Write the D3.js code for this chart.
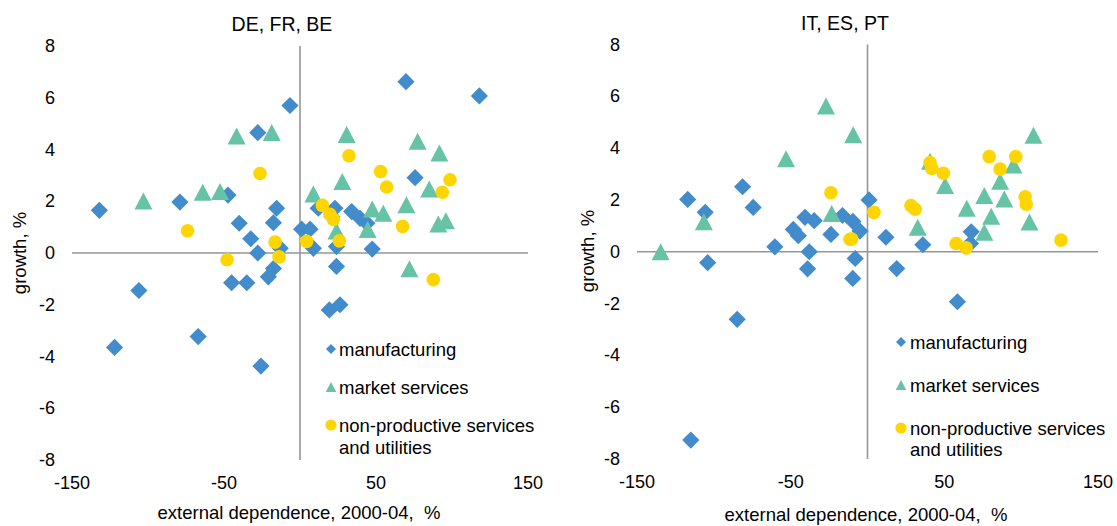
<!DOCTYPE html>
<html>
<head>
<meta charset="utf-8">
<script src="https://cdn.jsdelivr.net/npm/d3@7/dist/d3.min.js"></script>
<style>
  html, body { margin: 0; padding: 0; background: #fff; }
  svg { display: block; font-family: "Liberation Sans", Arial, sans-serif; }
</style>
</head>
<body>
<svg id="chart" width="1117" height="526"></svg>
<script>
// Sector growth vs. external dependence, 2000-04 (x: %, y: growth %)
const panelTitles = ["DE, FR, BE", "IT, ES, PT"];
const seriesNames = ["manufacturing", "market services", "non-productive services\nand utilities"];
const xTicks = [-150, -50, 50, 150];
const yTicks = [-8, -6, -4, -2, 0, 2, 4, 6, 8];
const xTitle = "external dependence, 2000-04,  %";
const yTitle = "growth, %";

// DE, FR, BE
const northManufacturing = [
  [-132, 1.65], [-122, -3.65], [-106, -1.45], [-79, 1.97], [-67, -3.23], [-47.4, 2.24],
  [-45, -1.15], [-40, 1.15], [-35, -1.15], [-32.4, 0.55], [-27.8, 4.65], [-27.8, 0.0],
  [-25.7, -4.37], [-20.8, -0.92], [-17.5, -0.6], [-17.5, 1.17], [-15.4, 1.73], [-13, 0.18],
  [-6.6, 5.7], [1.1, 0.92], [6.6, 0.92], [8.8, 0.18], [12, 1.73], [21, 1.4], [23, 1.73],
  [24, 0.25], [24, -0.52], [19.3, -2.2], [26.3, -2.0], [34, 1.6], [39.5, 1.34], [44, 1.15],
  [47.5, 0.15], [69.7, 6.62], [75.7, 2.91], [118, 6.07]
];
const northMarketServices = [
  [-103, 2.01], [-64, 2.35], [-52.6, 2.38], [-41.7, 4.52], [-18.6, 4.66], [8.8, 2.28],
  [24, 0.85], [27.8, 2.76], [30.7, 4.58], [44.5, 0.91], [47.5, 1.7], [54.8, 1.54],
  [70, 1.86], [72, -0.61], [77.4, 4.32], [85, 2.47], [91, 1.12], [91.7, 3.86], [96, 1.25]
];
const northNonProductive = [
  [-74, 0.86], [-48, -0.26], [-26.3, 3.07], [-16.4, 0.42], [-13.8, -0.15], [4.4, 0.45],
  [14.7, 1.84], [19.7, 1.5], [22, 1.3], [25.9, 0.47], [32.2, 3.76], [53, 3.15], [57, 2.55],
  [67.5, 1.03], [87.7, -1.03], [93.6, 2.35], [98.7, 2.83]
];

// IT, ES, PT
const southManufacturing = [
  [-117, 2.02], [-115, -7.27], [-105.6, 1.52], [-104, -0.42], [-84.8, -2.61], [-81.3, 2.51],
  [-74.4, 1.71], [-60.3, 0.19], [-48.3, 0.86], [-45, 0.62], [-40.7, 1.33], [-39, -0.66],
  [-37.9, 0.0], [-34.7, 1.2], [-23.8, 0.67], [-16.3, 1.4], [-9.5, 1.17], [-4.9, 0.8],
  [-8, -0.26], [-9.6, -1.03], [1, 2.0], [12, 0.56], [19, -0.65], [36, 0.27], [58.5, -1.93],
  [67.5, 0.77], [67, 0.32]
];
const southMarketServices = [
  [-134.6, 0.0], [-106.5, 1.16], [-53, 3.59], [-27, 5.63], [-23.3, 1.48], [-9.3, 4.52],
  [32.7, 0.95], [40.7, 3.49], [50.5, 2.56], [64.6, 1.68], [76, 2.17], [76, 0.75],
  [80.5, 1.37], [86.3, 2.72], [89, 2.04], [95, 3.35], [105.4, 1.15], [108, 4.5]
];
const southNonProductive = [
  [-23.8, 2.28], [-11.4, 0.48], [-10.3, 0.49], [4.2, 1.52], [28.3, 1.78], [31, 1.64],
  [40.7, 3.44], [41.8, 3.22], [49.4, 3.03], [57.7, 0.32], [64.2, 0.15], [79.2, 3.67],
  [86.3, 3.19], [96.5, 3.67], [102.6, 2.12], [103.3, 1.84], [125.9, 0.45]
];

const colors = ["#438ccb", "#66c3a5", "#ffd500"];
const axisColor = "#969696";

// marker shapes, centred on their bounding box
function diamondPath(h) { return `M0,${-h}L${h},0L0,${h}L${-h},0Z`; }
function trianglePath(w, h) { return `M0,${-h / 2}L${w / 2},${h / 2}L${-w / 2},${h / 2}Z`; }

const svg = d3.select("#chart");

const panels = [
  {
    title: panelTitles[0], series: [northManufacturing, northMarketServices, northNonProductive],
    x0: 72, x1: 528, y0: 460, y1: 46, titleX: 282, titleY: 24,
    yTitleX: 19, yTitleY: 253, xTitleX: 299, xTitleY: 512, xTickY: 483,
    legendX: 331, legendTextX: 339, legendY: [349, 387, 425, 447]
  },
  {
    title: panelTitles[1], series: [southManufacturing, southMarketServices, southNonProductive],
    x0: 637, x1: 1098, y0: 459, y1: 44.5, titleX: 845, titleY: 23,
    yTitleX: 587, yTitleY: 251, xTitleX: 866, xTitleY: 514, xTickY: 482,
    legendX: 901, legendTextX: 910, legendY: [342, 385, 428, 449]
  }
];

panels.forEach(p => {
  const x = d3.scaleLinear().domain([-150, 150]).range([p.x0, p.x1]);
  const y = d3.scaleLinear().domain([-8, 8]).range([p.y0, p.y1]);
  const g = svg.append("g");

  // zero-crossing axes
  g.append("line").attr("x1", x(-150)).attr("x2", x(150)).attr("y1", y(0)).attr("y2", y(0))
    .attr("stroke", axisColor).attr("stroke-width", 1.6);
  g.append("line").attr("x1", x(0)).attr("x2", x(0)).attr("y1", y(8)).attr("y2", y(-8))
    .attr("stroke", axisColor).attr("stroke-width", 1.6);

  // tick labels
  g.selectAll("text.ytick").data(yTicks).enter().append("text")
    .attr("class", "ytick").attr("x", p.x0 - 17).attr("y", d => y(d))
    .attr("text-anchor", "end").attr("dominant-baseline", "central")
    .attr("font-size", 18).attr("fill", "#000").text(d => d);
  g.selectAll("text.xtick").data(xTicks).enter().append("text")
    .attr("class", "xtick").attr("x", d => x(d)).attr("y", p.xTickY)
    .attr("text-anchor", "middle").attr("dominant-baseline", "central")
    .attr("font-size", 18).attr("fill", "#000").text(d => d);

  // titles
  g.append("text").attr("x", p.titleX).attr("y", p.titleY)
    .attr("text-anchor", "middle").attr("dominant-baseline", "central")
    .attr("font-size", 19.5).text(p.title);
  g.append("text").attr("x", p.xTitleX).attr("y", p.xTitleY)
    .attr("text-anchor", "middle").attr("dominant-baseline", "central")
    .attr("font-size", 18.5).attr("xml:space", "preserve").style("white-space", "pre").text(xTitle);
  g.append("text").attr("transform", `translate(${p.yTitleX},${p.yTitleY}) rotate(-90)`)
    .attr("text-anchor", "middle").attr("dominant-baseline", "central")
    .attr("font-size", 18.5).text(yTitle);

  // series markers: manufacturing, market services, non-productive
  g.append("g").selectAll("path").data(p.series[0]).enter().append("path")
    .attr("d", diamondPath(8.6)).attr("fill", colors[0])
    .attr("transform", d => `translate(${x(d[0])},${y(d[1])})`);
  g.append("g").selectAll("path").data(p.series[1]).enter().append("path")
    .attr("d", trianglePath(18, 17)).attr("fill", colors[1])
    .attr("transform", d => `translate(${x(d[0])},${y(d[1])})`);
  g.append("g").selectAll("circle").data(p.series[2]).enter().append("circle")
    .attr("cx", d => x(d[0])).attr("cy", d => y(d[1])).attr("r", 6.8).attr("fill", colors[2]);

  // legend
  const lg = g.append("g");
  lg.append("path").attr("d", diamondPath(5)).attr("fill", colors[0])
    .attr("transform", `translate(${p.legendX},${p.legendY[0]})`);
  lg.append("path").attr("d", trianglePath(10.5, 10)).attr("fill", colors[1])
    .attr("transform", `translate(${p.legendX},${p.legendY[1]})`);
  lg.append("circle").attr("cx", p.legendX).attr("cy", p.legendY[2]).attr("r", 5.6).attr("fill", colors[2]);
  const lines = [seriesNames[0], seriesNames[1]].concat(seriesNames[2].split("\n"));
  lines.forEach((t, i) => {
    lg.append("text").attr("x", p.legendTextX).attr("y", p.legendY[i])
      .attr("dominant-baseline", "central").attr("font-size", 18.5).text(t);
  });
});
</script>
</body>
</html>
